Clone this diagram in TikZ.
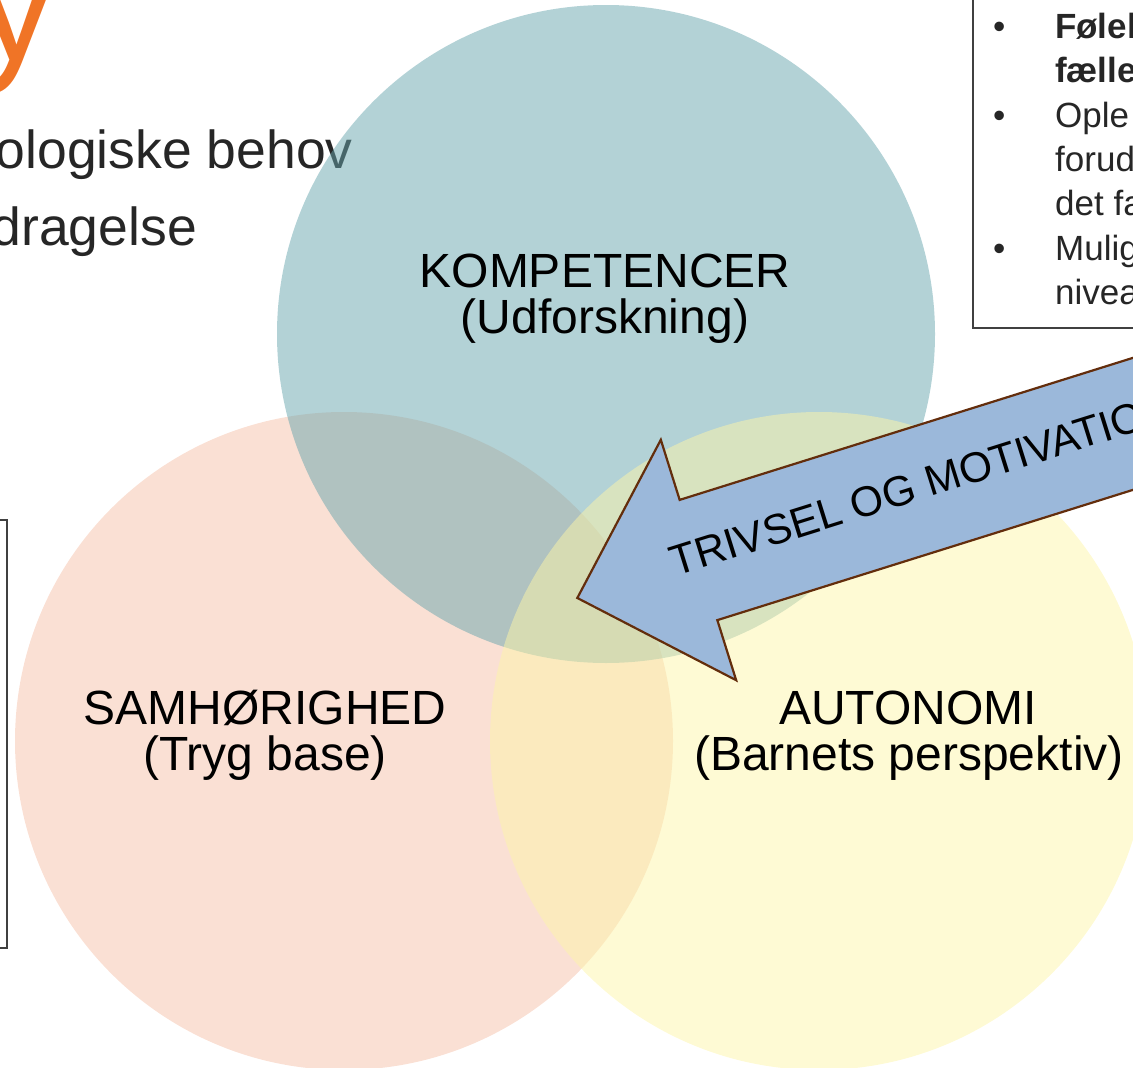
\documentclass[tikz,border=0pt]{standalone}
\usepackage{fontspec}
\setmainfont{Liberation Sans}
\definecolor{tealc}{RGB}{103,165,173}
\definecolor{pinkc}{RGB}{245,193,169}
\definecolor{yellc}{RGB}{253,245,169}
\definecolor{arrowfill}{RGB}{155,184,218}
\definecolor{arrowline}{RGB}{99,45,12}
\definecolor{orangec}{RGB}{240,116,38}
\definecolor{textgray}{RGB}{38,38,38}
\definecolor{boxline}{RGB}{64,64,64}
\begin{document}
\begin{tikzpicture}[x=1pt,y=-1pt,
  venn/.style={fill opacity=0.5},
  lbl/.style={anchor=base, inner sep=0pt, text=black, font=\fontsize{48}{48}\selectfont},
  bigtxt/.style={anchor=base east, inner sep=0pt, text=textgray, font=\fontsize{53.5}{53.5}\selectfont},
  bultxt/.style={anchor=base west, inner sep=0pt, text=textgray, font=\fontsize{35}{35}\selectfont},
  bulbold/.style={bultxt, font=\fontsize{35}{35}\selectfont\bfseries},
  framebox/.style={draw=boxline, line width=1.5pt},
  bigarrow/.style={fill=arrowfill, draw=arrowline, line width=2.2pt, line join=miter}]
\useasboundingbox (0,0) rectangle (1133,1068);
\clip (0,0) rectangle (1133,1068);
% background texts (under the circles)
\node[anchor=base west, inner sep=0pt, text=orangec, font=\fontsize{162}{162}\selectfont] (ty) at (-25,60) {y};
\node[bigtxt] (l1) at (353,168) {ologiske behov};
\node[bigtxt] (l2) at (197,245) {dragelse};
% left frame
\draw[framebox] (-5,520) -- (7,520) -- (7,948) -- (-5,948);
% top right frame
\draw[framebox] (973,-5) -- (973,328) -- (1140,328);
\node[bultxt] (b1) at (993,38) {•};
\node[bulbold] (t1) at (1055,38) {Følel};
\node[bulbold] (t2) at (1055,82) {fælle};
\node[bultxt] (b2) at (993,127) {•};
\node[bultxt] (t3) at (1055,127) {Ople};
\node[bultxt] (t4) at (1055,171) {forud};
\node[bultxt] (t5) at (1055,215) {det fa};
\node[bultxt] (b3) at (993,260) {•};
\node[bultxt] (t6) at (1055,260) {Mulig};
\node[bultxt] (t7) at (1055,304) {nivea};
% circles
\fill[pinkc, venn] (344,741) circle[radius=329pt];
\fill[tealc, venn] (606,334) circle[radius=329pt];
\fill[yellc, venn] (819,741) circle[radius=329pt];
% labels
\node[lbl] (k1) at (605,287) {KOMPETENCER};
\node[lbl] (k2) at (605,333) {(Udforskning)};
\node[lbl] (s1) at (265,724) {SAMHØRIGHED};
\node[lbl] (s2) at (265,770) {(Tryg base)};
\node[lbl] (a1) at (908,724) {AUTONOMI};
\node[lbl] (a2) at (909,770) {(Barnets perspektiv)};
% arrow
\begin{scope}[shift={(698.5,560)}, rotate=17.4]
\draw[bigarrow] (-127,0) -- (0,-126) -- (0,-63) -- (800,-63) -- (800,63) -- (0,63) -- (0,126) -- cycle;
\node[anchor=base west, inner sep=0pt, transform shape, font=\fontsize{42.5}{42.5}\selectfont] (arr) at (-27,9) {TRIVSEL OG MOTIVATIO};
\end{scope}
\end{tikzpicture}
\end{document}
